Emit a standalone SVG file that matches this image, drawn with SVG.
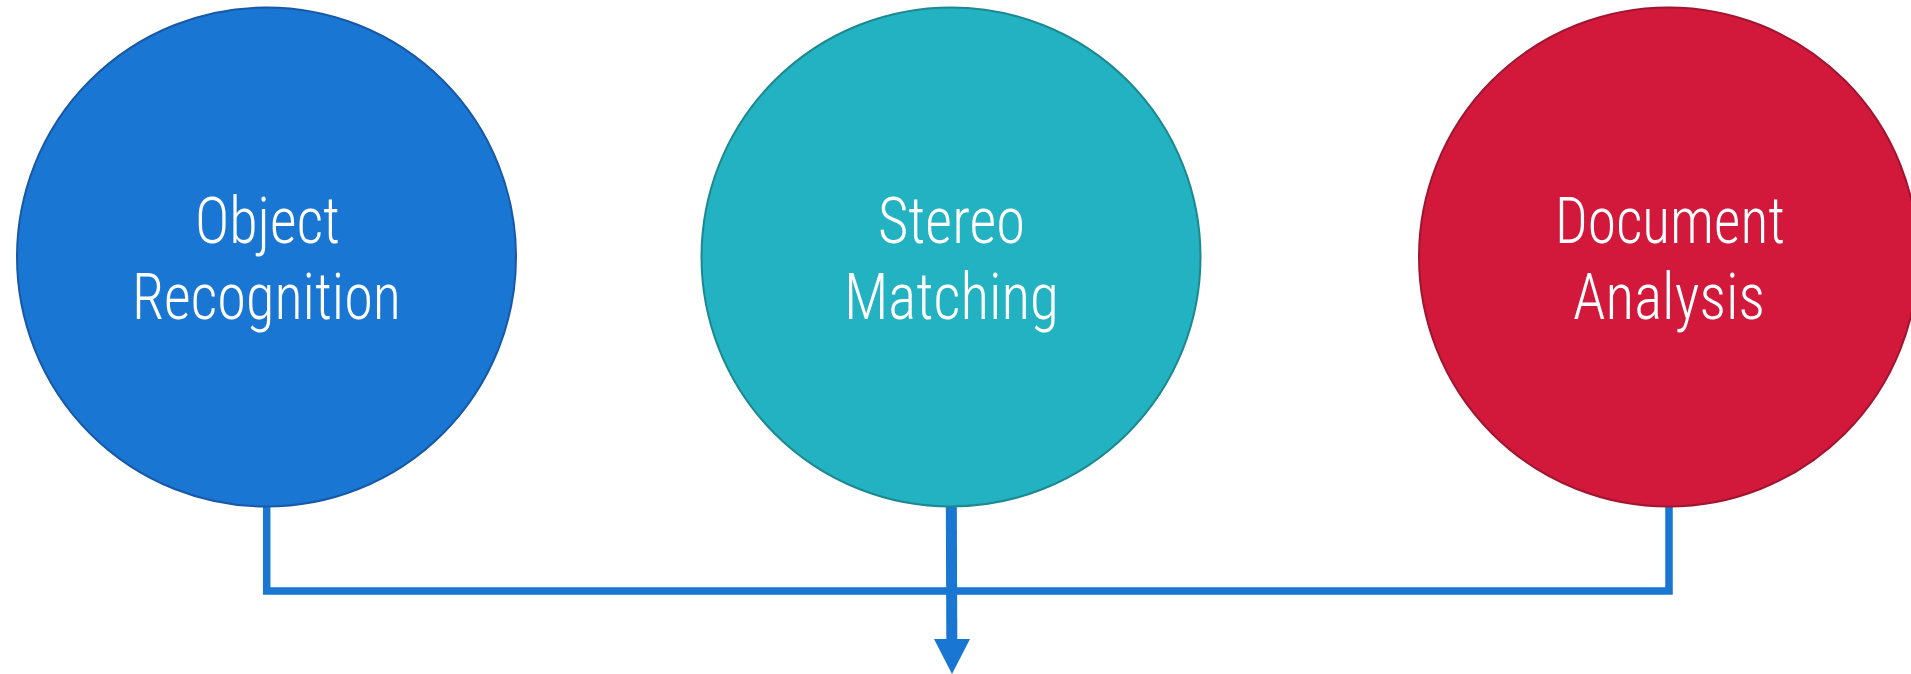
<svg xmlns="http://www.w3.org/2000/svg" width="1911" height="674" viewBox="0 0 1911 674">
  <style>
    .lbl { font-family: "Roboto Condensed", "Liberation Sans Narrow", Roboto, "Liberation Sans", sans-serif; font-weight: 300; font-size: 65px; fill: #ffffff; }
    .conn { fill: none; stroke: #1976D2; stroke-width: 7.5; stroke-linejoin: miter; }
  </style>
  <rect width="1911" height="674" fill="#ffffff"/>
  <g id="connectors">
    <polyline class="conn" points="266.7,500 266.7,591 1669,591 1669,500"/>
    <line x1="951.3" y1="500" x2="951.8" y2="640" stroke="#1976D2" stroke-width="11"/>
    <polygon points="934,639 970,639 952,674" fill="#1976D2"/>
  </g>
  <g id="node-object">
    <circle cx="266.5" cy="257" r="249.5" fill="#1976D3" stroke="#1759A6" stroke-width="2"/>
    <text class="lbl" x="195" y="243" textLength="145" lengthAdjust="spacingAndGlyphs">Object</text>
    <text class="lbl" x="132" y="319" textLength="269" lengthAdjust="spacingAndGlyphs">Recognition</text>
  </g>
  <g id="node-stereo">
    <circle cx="951" cy="257" r="249.5" fill="#23B2C1" stroke="#1C8890" stroke-width="2"/>
    <text class="lbl" x="878" y="243" textLength="147" lengthAdjust="spacingAndGlyphs">Stereo</text>
    <text class="lbl" x="844" y="319" textLength="215" lengthAdjust="spacingAndGlyphs">Matching</text>
  </g>
  <g id="node-document">
    <circle cx="1668.5" cy="257" r="249.5" fill="#D3193B" stroke="#A01530" stroke-width="2"/>
    <text class="lbl" x="1555" y="243" textLength="230" lengthAdjust="spacingAndGlyphs">Document</text>
    <text class="lbl" x="1573" y="319" textLength="192" lengthAdjust="spacingAndGlyphs">Analysis</text>
  </g>
</svg>
